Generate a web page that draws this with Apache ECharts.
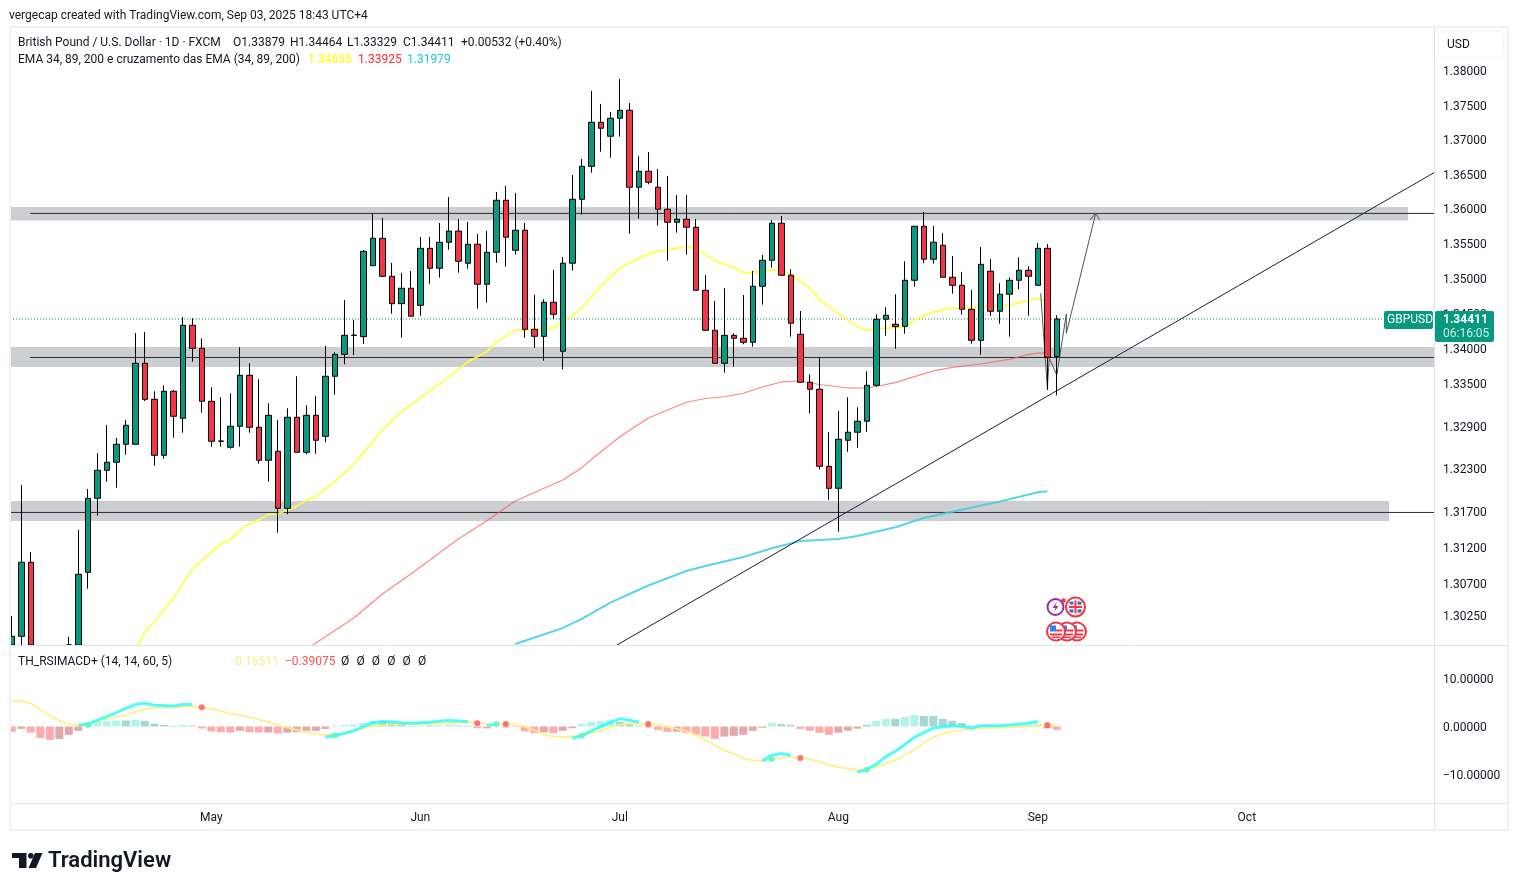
<!DOCTYPE html>
<html>
<head>
<meta charset="utf-8">
<title>GBPUSD</title>
<script src="https://cdn.jsdelivr.net/npm/echarts@6/dist/echarts.min.js"></script>
<style>
html, body { margin: 0; padding: 0; background: #fff; }
#chart { width: 1518px; height: 891px; }
</style>
</head>
<body>
<div id="chart"></div>
<script>
// daily bars, index 0 = Apr 2 2025, weekdays only
const opens = [1.2960,1.29963,1.30987,1.2890,1.2790,1.2770,1.2925,1.2970,1.30848,1.31879,1.32271,1.32384,1.32637,1.32637,1.33781,1.33271,1.32482,1.33384,1.33003,1.34321,1.33993,1.33243,1.32679,1.32594,1.32890,1.33611,1.32876,1.32412,1.32538,1.31739,1.33017,1.32524,1.33045,1.32749,1.33597,1.33908,1.34178,1.34159,1.35173,1.35566,1.35021,1.34629,1.34850,1.34606,1.35422,1.35136,1.35509,1.35670,1.35208,1.35480,1.34907,1.35365,1.36114,1.35394,1.35682,1.34264,1.34164,1.34649,1.33951,1.35208,1.36128,1.36605,1.37244,1.37041,1.37303,1.37419,1.36302,1.36533,1.36302,1.35984,1.35797,1.35840,1.35725,1.34821,1.34250,1.33781,1.34178,1.34136,1.34079,1.34878,1.35250,1.35783,1.35036,1.34193,1.33512,1.33413,1.32327,1.32019,1.32693,1.32806,1.32961,1.33469,1.34407,1.34336,1.34307,1.34964,1.35739,1.35265,1.35466,1.35007,1.34892,1.34549,1.34107,1.35093,1.34521,1.34764,1.34964,1.35107,1.34892,1.35422,1.33879];
const closes = [1.29963,1.30987,1.2895,1.2800,1.2770,1.2920,1.2970,1.30821,1.31877,1.32271,1.32384,1.32637,1.32904,1.33781,1.33271,1.32482,1.33384,1.33031,1.34321,1.33993,1.33243,1.32679,1.32683,1.32890,1.33611,1.32876,1.32412,1.33045,1.31739,1.33017,1.32524,1.33045,1.32693,1.33597,1.33908,1.34178,1.34181,1.35379,1.35566,1.35021,1.34629,1.34850,1.34450,1.35422,1.35136,1.35509,1.35670,1.35236,1.35480,1.34907,1.35365,1.36114,1.35581,1.35682,1.34264,1.34164,1.34649,1.34478,1.35208,1.36128,1.36605,1.37244,1.37157,1.37303,1.37419,1.36302,1.36533,1.36374,1.35984,1.35797,1.35840,1.35725,1.34821,1.34250,1.33781,1.34178,1.34136,1.34079,1.34878,1.35250,1.35783,1.35036,1.34350,1.33512,1.33413,1.32327,1.32019,1.32707,1.32806,1.32961,1.33469,1.34407,1.34464,1.34301,1.34964,1.35739,1.35265,1.35509,1.35007,1.34892,1.34549,1.34107,1.35193,1.34521,1.34764,1.34964,1.35107,1.35021,1.35422,1.33866,1.34411];
const lows = [1.2950,1.29750,1.2870,1.2760,1.2720,1.2760,1.2900,1.2950,1.30621,1.31636,1.32112,1.32027,1.32490,1.32637,1.33247,1.32336,1.32434,1.32729,1.32800,1.33803,1.33082,1.32603,1.32603,1.32574,1.32603,1.32800,1.32364,1.32112,1.31399,1.31656,1.32524,1.32496,1.32504,1.32665,1.33336,1.33767,1.33898,1.34055,1.35173,1.35007,1.34487,1.34144,1.34450,1.34458,1.34915,1.35001,1.35402,1.35073,1.35130,1.34558,1.34644,1.35216,1.35159,1.35331,1.34144,1.34001,1.33817,1.34407,1.33696,1.35102,1.35906,1.36513,1.36816,1.36730,1.37035,1.35633,1.35849,1.36345,1.35748,1.35245,1.35647,1.35331,1.34821,1.34250,1.33781,1.33648,1.33733,1.34050,1.34016,1.34615,1.35145,1.35036,1.34159,1.33512,1.33068,1.32285,1.31859,1.31413,1.32532,1.32588,1.32814,1.33449,1.34173,1.33987,1.34201,1.34873,1.35208,1.35202,1.35007,1.34772,1.34472,1.34059,1.33902,1.34454,1.34344,1.34159,1.34835,1.34458,1.34892,1.33403,1.33329];
const highs = [1.30243,1.32065,1.31130,1.2950,1.2880,1.2950,1.29958,1.31437,1.32009,1.32514,1.32909,1.32725,1.32979,1.34211,1.34226,1.33384,1.33469,1.33403,1.34440,1.34421,1.34136,1.33441,1.33299,1.33355,1.34008,1.33781,1.33554,1.33214,1.32979,1.33144,1.33597,1.33186,1.33313,1.34026,1.33936,1.34682,1.34397,1.35398,1.35926,1.35859,1.35212,1.35069,1.35097,1.35585,1.35585,1.35787,1.36161,1.35844,1.35801,1.35628,1.35672,1.36234,1.36320,1.36219,1.35787,1.34754,1.34692,1.35112,1.35298,1.36479,1.36711,1.37701,1.37511,1.37394,1.37876,1.37525,1.36754,1.36812,1.36566,1.36465,1.36190,1.36190,1.35844,1.35036,1.34668,1.34850,1.34207,1.34754,1.35097,1.35326,1.35830,1.35888,1.35122,1.34525,1.33625,1.33860,1.32806,1.33106,1.33299,1.33158,1.33667,1.34478,1.34578,1.34764,1.35236,1.35739,1.35945,1.35744,1.35643,1.35312,1.35083,1.34825,1.35441,1.35265,1.34921,1.35007,1.35293,1.35164,1.35499,1.35484,1.34464];

// EMA lines, read at the listed bar indexes
const emaFastIdx = [13,14,15,17,19,20,22,23,24,25,26,27,28,29,30,31,32,34,36,37,39,41,46,48,50,51,53,55,57,58,60,61,62,64,65,67,68,71,72,74,76,77,78,80,81,82,84,85,86,88,89,90,91,94,95,97,99,100,103,105,107,108,109];
const emaFast = [1.29774,1.30022,1.30160,1.30492,1.30894,1.31019,1.31241,1.31297,1.31437,1.31521,1.31576,1.31656,1.31660,1.31716,1.31771,1.31855,1.31901,1.32114,1.32360,1.32514,1.32838,1.33092,1.33587,1.33799,1.33945,1.34087,1.34254,1.34254,1.34287,1.34361,1.34564,1.34725,1.34882,1.35136,1.35212,1.35341,1.35377,1.35449,1.35412,1.35245,1.35147,1.35073,1.35073,1.35112,1.35112,1.35047,1.34854,1.34696,1.34582,1.34397,1.34297,1.34254,1.34268,1.34297,1.34397,1.34515,1.34568,1.34568,1.34586,1.34611,1.34675,1.34706,1.34655];
const emaMidIdx = [31,32,36,39,42,44,47,50,53,58,60,61,64,67,71,73,75,77,79,81,83,85,88,90,93,95,97,99,102,105,107,108,109];
const emaMid = [1.29774,1.29871,1.30216,1.30547,1.30825,1.31019,1.31311,1.31566,1.31841,1.32135,1.32308,1.32423,1.32743,1.33007,1.33229,1.33282,1.33307,1.33356,1.33445,1.33516,1.33530,1.33480,1.33431,1.33427,1.33506,1.33591,1.33672,1.33724,1.33771,1.33837,1.33905,1.33927,1.33925];
const emaSlowIdx = [53,58,60,63,67,71,73,77,80,83,87,89,93,96,99,104,108,109];
const emaSlow = [1.29857,1.30078,1.30202,1.30427,1.30665,1.30866,1.30936,1.31061,1.31182,1.31283,1.31311,1.31353,1.31474,1.31604,1.31692,1.31834,1.31963,1.31979];

const priceTicks = [1.38,1.375,1.37,1.365,1.36,1.355,1.35,1.345,1.34,1.335,1.329,1.323,1.317,1.312,1.307,1.3025];
const monthNames = ['May','Jun','Jul','Aug','Sep','Oct'];
const monthIdx = [21,43,64,87,108,130];

// hand drawn zones and lines
const zoneTop = [1.36017,1.35823,146.97];
const zoneMid = [1.34012,1.33728,149.7];
const zoneLow = [1.31841,1.31562,144.97];
const levelValues = [1.35924,1.33863,1.31681];
const levelStart = [1.92,1.92,-0.19];
const trendX = [63.7,149.7];
const trendY = [1.29843,1.36513];
const arrowX = [108.3,109,109.2,110,111,111,114.1];
const arrowY = [1.34778,1.33435,1.33851,1.33615,1.34482,1.34207,1.35931];
const arrowHeadX = [113.5,114.1,114.5];
const arrowHeadY = [1.35830,1.35931,1.35830];
const lastClose = 1.34411;

// TH_RSIMACD+ pane
const histValues = [-1.1,-0.5,-1.25,-2.4,-2.8,-2.6,-1.75,-0.9,0.6,1.0,1.1,1.25,1.25,1.4,1.2,0.6,0.35,0.15,0.35,0.2,-0.4,-1.0,-1.2,-1.25,-0.9,-1.2,-1.25,-1.25,-1.45,-1.3,-1.2,-0.9,-0.9,-0.5,0.1,0.35,0.4,0.75,1.25,1.25,0.85,0.55,0.15,0.2,0.2,0.25,0.35,0.2,0.1,-0.35,-0.4,0.05,-0.2,-0.1,-1.0,-1.4,-1.25,-1.4,-0.9,-0.35,0.55,1.0,1.2,1.4,1.0,0.55,0.15,-0.2,-0.7,-1.1,-1.1,-1.4,-1.75,-2.1,-2.6,-2.1,-1.95,-1.75,-0.9,-0.25,0.75,0.55,0.35,-0.5,-0.9,-1.3,-1.75,-1.3,-0.9,-0.45,0.35,1.2,1.6,1.6,2.0,2.4,2.2,2.2,1.6,1.2,0.75,0.15,0.3,0.15,0.15,0.25,0.35,0.45,0.6,-0.4,-0.7];
const oscSignal = [5.45,5.3,4.9,3.5,2.3,1.2,0.5,0.2,0.35,1.05,1.55,2.0,2.45,3.05,3.6,3.85,4.0,4.05,4.2,4.25,4.05,3.7,3.3,2.65,2.4,1.95,1.45,0.95,0.3,-0.2,-0.75,-1.2,-1.55,-1.8,-1.75,-1.4,-0.9,-0.4,0.05,0.3,0.4,0.5,0.5,0.55,0.55,0.6,0.7,0.85,0.9,0.75,0.6,0.55,0.55,0.4,0,-0.8,-1.75,-2.1,-2.2,-2.1,-1.8,-1.4,-0.9,-0.15,0.35,0.6,0.6,0.55,0.35,-0.05,-0.5,-1.0,-1.75,-2.8,-3.85,-5.0,-5.7,-6.7,-7.05,-7.2,-6.85,-6.5,-6.35,-6.5,-6.85,-7.35,-8.05,-8.5,-8.85,-9.05,-8.95,-8.5,-7.8,-7.0,-5.95,-4.9,-3.5,-2.25,-1.55,-1.05,-0.7,-0.5,-0.35,-0.3,-0.2,-0.15,-0.05,0,0.2,0.35,0.2];
const oscUpIdx = [
  [7,8,9,10,11,12,13,14,15,16,17,18,19],
  [33,34,35,36,37,38,39,40,41,42,43,44,45,46,47,48],
  [50,51],
  [59,60,61,62,63,64,65,66],
  [79,80,81,82],
  [89,90,91,92,93,94,95,96,97,98,99,100,101,102,104,105,106,107,108]
];
const oscUpVal = [
  [0.2,0.55,1.35,2.05,2.9,3.8,4.6,4.9,4.45,4.4,4.3,4.6,4.6],
  [-2.25,-1.9,-1.45,-0.9,0,0.8,1,1,0.8,0.7,0.8,0.9,1.1,1.25,1.15,1.05],
  [0.15,0.55],
  [-2.45,-1.95,-0.9,0,0.8,1.65,1.3,0.9],
  [-7.2,-6,-5.65,-6],
  [-9.6,-8.95,-7.9,-6.3,-5.2,-3.8,-2.25,-1.3,-0.35,-0.05,0.15,0,-0.3,0.15,0.15,0.3,0.5,0.75,1.05]
];
const dotSellIdx = [20,49,52,67,83,109];
const dotSellVal = [4.05,0.7,0.55,0.5,-6.6,0.3];
const dotBuyIdx = [8,34,51,60,80,90];
const dotBuyVal = [0.3,-1.9,0.55,-1.95,-6.85,-9.05];
const oscTicks = [10,0,-10];

const font = 'Roboto, "Noto Sans", sans-serif';
const xMin = -0.19, xMax = 149.7;
const yMin = 1.29843, yMax = 1.38638;
const zip = (xs, ys) => xs.map((x, i) => [x, ys[i]]);
const atFloor = (v) => Math.max(v, yMin);

const zoneSeries = (z) => ({
    type: 'line', xAxisIndex: 0, yAxisIndex: 0, data: [], z: 1, silent: true,
    markArea: {
        silent: true,
        itemStyle: { color: '#CDCED2', opacity: 1 },
        data: [[{ coord: [xMin, z[0]] }, { coord: [z[2], z[1]] }]]
    }
});
const plainLine = (data, color, width, z, extra) => Object.assign({
    type: 'line', xAxisIndex: 0, yAxisIndex: 0, data, z, silent: true,
    symbol: 'none', lineStyle: { color, width }, animation: false
}, extra || {});

const series = [
    zoneSeries(zoneTop), zoneSeries(zoneMid), zoneSeries(zoneLow),
    plainLine([[levelStart[0], levelValues[0]], [xMax, levelValues[0]]], '#2a2d33', 1, 2),
    plainLine([[levelStart[1], levelValues[1]], [xMax, levelValues[1]]], '#2a2d33', 1, 2),
    plainLine([[levelStart[2], levelValues[2]], [xMax, levelValues[2]]], '#2a2d33', 1, 2),
    plainLine([[xMin, lastClose], [xMax, lastClose]], '#067a68', 1, 2, { lineStyle: { color: '#067a68', width: 1, type: [1, 2] } }),
    plainLine(zip(emaFastIdx, emaFast), 'rgba(255,255,60,0.85)', 2, 3),
    plainLine(zip(emaMidIdx, emaMid), 'rgba(255,82,82,0.7)', 1.2, 3),
    plainLine(zip(emaSlowIdx, emaSlow), 'rgba(60,205,228,0.85)', 2, 3),
    plainLine(zip(trendX, trendY), '#1d2029', 1, 4),
    plainLine(zip(arrowX, arrowY), '#555', 1, 4),
    plainLine(zip(arrowHeadX, arrowHeadY), '#555', 1, 4),
    {
        type: 'candlestick', xAxisIndex: 0, yAxisIndex: 0, z: 5, silent: true,
        barWidth: 6,
        itemStyle: {
            color: '#089981', color0: '#F23645',
            borderColor: '#000', borderColor0: '#000', borderColorDoji: '#000', borderWidth: 1
        },
        // bars under the visible range end at the pane floor
        data: opens.map((o, i) => [i, atFloor(o), atFloor(closes[i]), atFloor(lows[i]), highs[i]])
            .filter((row, i) => highs[i] >= yMin)
    },
    {
        type: 'bar', xAxisIndex: 1, yAxisIndex: 1, barWidth: 8, silent: true, z: 2, clip: true,
        data: histValues.map((v, i) => {
            const grow = i === 0 || Math.abs(v) > Math.abs(histValues[i - 1]);
            const color = v >= 0 ? (grow ? '#B2F5E8' : '#A5D8D1') : (grow ? '#FFABAB' : '#E3A9A9');
            return { value: [i, v], itemStyle: { color } };
        })
    },
    {
        type: 'line', xAxisIndex: 1, yAxisIndex: 1, symbol: 'none', silent: true, z: 3,
        lineStyle: { color: 'rgba(255,238,130,0.85)', width: 2 },
        data: oscSignal.map((v, i) => [i, v])
    }
].concat(oscUpIdx.map((xs, k) => ({
    type: 'line', xAxisIndex: 1, yAxisIndex: 1, symbol: 'none', silent: true, z: 4,
    lineStyle: { color: 'rgba(40,250,250,0.8)', width: 3 },
    data: zip(xs, oscUpVal[k])
}))).concat([
    {
        type: 'scatter', xAxisIndex: 1, yAxisIndex: 1, symbolSize: 6, silent: true, z: 5,
        itemStyle: { color: '#FF5252' }, data: zip(dotSellIdx, dotSellVal)
    },
    {
        type: 'scatter', xAxisIndex: 1, yAxisIndex: 1, symbolSize: 6, silent: true, z: 5,
        itemStyle: { color: '#55F5C8' }, data: zip(dotBuyIdx, dotBuyVal)
    }
]);

// texts, boxes and icons around the plot
const txt = (x, y, text, fill, size, weight) => ({
    type: 'text', x, y: y + 1, z: 20, silent: true,
    style: { text, fill: fill || '#131722', font: (weight || 'normal') + ' ' + (size || 12) + 'px ' + font, textVerticalAlign: 'middle' }
});
const box = (x, y, width, height, fill, r, z) => ({
    type: 'rect', z: z || 19, silent: true,
    shape: { x, y, width, height, r: r || 0 }, style: { fill }
});
const hline = (x1, y1, x2, y2, stroke, lineWidth) => ({
    type: 'line', z: 18, silent: true,
    shape: { x1, y1, x2, y2 }, style: { stroke, lineWidth: lineWidth || 1 }
});
const ring = (cx, cy, r, stroke, fill, lw) => ({
    type: 'circle', z: 21, silent: true,
    shape: { cx, cy, r }, style: { stroke, fill: fill || '#fff', lineWidth: lw || 2 }
});
const usFlag = (cx, cy, z) => [
    { type: 'circle', z, silent: true, shape: { cx, cy, r: 9 }, style: { fill: '#fff', stroke: '#F23645', lineWidth: 2 } },
    { type: 'rect', z: z + 0.1, silent: true, shape: { x: cx - 6, y: cy + 2, width: 12, height: 2 }, style: { fill: '#F23645' } },
    { type: 'rect', z: z + 0.1, silent: true, shape: { x: cx - 4, y: cy + 5, width: 8, height: 1.5 }, style: { fill: '#F23645' } },
    { type: 'rect', z: z + 0.1, silent: true, shape: { x: cx, y: cy - 2, width: 6.5, height: 2 }, style: { fill: '#F23645' } },
    { type: 'rect', z: z + 0.1, silent: true, shape: { x: cx - 6, y: cy - 6, width: 6, height: 6 }, style: { fill: '#2F80ED' } }
];
const ukCorner = (x, y) => ({ type: 'rect', z: 22, silent: true, shape: { x, y, width: 4, height: 3.2 }, style: { fill: '#3A6FC4' } });

const graphics = [
    box(0, 27, 9.5, 776, '#fff', 0, 16),
    { type: 'rect', z: 17, silent: true, shape: { x: 10, y: 27, width: 1498, height: 803 }, style: { fill: 'none', stroke: '#F0F1F4', lineWidth: 2 } },
    hline(10, 645.5, 1508, 645.5, '#E0E3EB'),
    hline(10, 803.5, 1508, 803.5, '#E0E3EB'),
    hline(1434.5, 27, 1434.5, 830, '#E0E3EB'),
    { type: 'rect', z: 19, silent: true, shape: { x: 1438.5, y: 31.5, width: 65, height: 26, r: 4 }, style: { fill: '#fff', stroke: '#F0F3FA', lineWidth: 1 } },
    txt(1447, 44, 'USD'),
    txt(9, 15, 'vergecap created with TradingView.com, Sep 03, 2025 18:43 UTC+4'),
    txt(18, 42, 'British Pound / U.S. Dollar · 1D · FXCM'),
    txt(233, 42, 'O1.33879'), txt(290, 42, 'H1.34464'), txt(347, 42, 'L1.33329'), txt(403, 42, 'C1.34411'),
    txt(461, 42, '+0.00532 (+0.40%)'),
    txt(18, 59, 'EMA 34, 89, 200 e cruzamento das EMA (34, 89, 200)'),
    txt(308, 59, '1.34655', '#FFFF00'), txt(358, 59, '1.33925', '#FF2A2A'), txt(407, 59, '1.31979', '#1CC8E6'),
    txt(18, 660.5, 'TH_RSIMACD+ (14, 14, 60, 5)'),
    txt(235, 660.5, '0.16511', '#FFE98A'), txt(285, 660.5, '−0.39075', '#FF5252'),
    box(1384, 311, 49, 18, '#089981', 2),
    txt(1387, 319, 'GBPUSD', '#fff', 12),
    box(1435, 311, 59, 31, '#089981', 2),
    txt(1443, 319, '1.34411', '#fff', 12, 'bold'),
    txt(1443, 333, '06:16:05', '#CFEDE6', 12),
    // event icons
    ring(1055.5, 607, 8, '#9C27B0'),
    { type: 'polygon', z: 22, silent: true, shape: { points: [[1057, 602], [1052.5, 608], [1055.5, 608], [1054, 612], [1058.5, 606], [1055.5, 606]] }, style: { fill: '#9C27B0' } },
    { type: 'circle', z: 23, silent: true, shape: { cx: 1063.5, cy: 600.5, r: 2.2 }, style: { fill: '#F23645' } },
    ring(1075.5, 607, 9.5, '#F23645'),
    ukCorner(1069.5, 601.5), ukCorner(1077.5, 601.5), ukCorner(1069.5, 609.3), ukCorner(1077.5, 609.3),
    { type: 'rect', z: 23, silent: true, shape: { x: 1069, y: 606, width: 13, height: 2 }, style: { fill: '#F23645' } },
    { type: 'rect', z: 23, silent: true, shape: { x: 1074.5, y: 600.5, width: 2, height: 13 }, style: { fill: '#F23645' } }
].concat(usFlag(1077, 631.5, 21), usFlag(1067, 631.5, 22), usFlag(1056, 631.5, 23), [
    // logo
    { type: 'polygon', z: 20, silent: true, shape: { points: [[12, 853], [26.5, 853], [26.5, 868], [19, 868], [19, 858], [12, 858]] }, style: { fill: '#131722' } },
    { type: 'polygon', z: 20, silent: true, shape: { points: [[42.5, 853], [36, 868], [28.5, 868], [35, 853]] }, style: { fill: '#131722' } },
    { type: 'circle', z: 20, silent: true, shape: { cx: 30.8, cy: 855.8, r: 2.8 }, style: { fill: '#131722' } },
    txt(48, 860.5, 'TradingView', '#131722', 22, '600')
]);
['Ø', 'Ø', 'Ø', 'Ø', 'Ø', 'Ø'].forEach((s, i) => graphics.push(txt(341 + i * 15.4, 660.5, s, '#131722')));

const chart = echarts.init(document.getElementById('chart'));
chart.setOption({
    animation: false,
    backgroundColor: '#fff',
    tooltip: { show: false },
    grid: [
        { left: 10, right: 84, top: 27, height: 618 },
        { left: 10, right: 84, top: 646, height: 157 }
    ],
    xAxis: [
        { type: 'value', gridIndex: 0, min: xMin, max: xMax, show: false },
        {
            type: 'value', gridIndex: 1, min: xMin, max: xMax,
            splitLine: { show: false }, axisTick: { show: false },
            axisLine: { show: false },
            axisLabel: {
                customValues: monthIdx, color: '#131722', fontFamily: font, fontSize: 12, margin: 9,
                formatter: (v) => monthNames[monthIdx.indexOf(v)]
            }
        }
    ],
    yAxis: [
        {
            type: 'log', logBase: 10, gridIndex: 0, position: 'right', min: yMin, max: yMax,
            splitLine: { show: false }, axisTick: { show: false }, axisLine: { show: false },
            axisLabel: {
                customValues: priceTicks, color: '#131722', fontFamily: font, fontSize: 12, margin: 9,
                verticalAlign: 'top', lineHeight: 4,
                formatter: (v) => Number(v).toFixed(5)
            }
        },
        {
            type: 'value', gridIndex: 1, position: 'right', min: -16.02, max: 16.86,
            splitLine: { show: false }, axisTick: { show: false }, axisLine: { show: false },
            axisLabel: {
                customValues: oscTicks, color: '#131722', fontFamily: font, fontSize: 12, margin: 9,
                verticalAlign: 'top', lineHeight: 3,
                formatter: (v) => (v < 0 ? '−' : '') + Math.abs(v).toFixed(5)
            }
        }
    ],
    series,
    graphic: { elements: graphics }
});
</script>
</body>
</html>
